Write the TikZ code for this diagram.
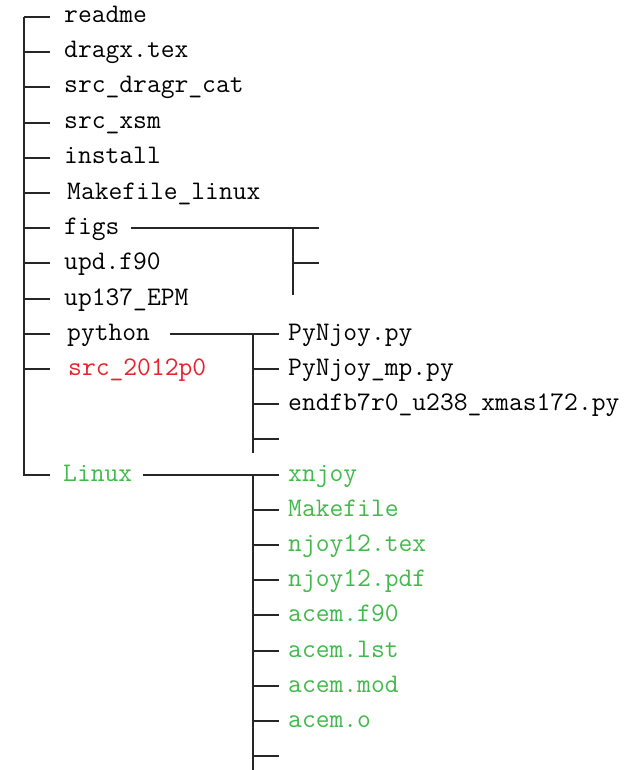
\documentclass[tikz,border=0pt]{standalone}
\usepackage{fontspec}
\definecolor{dirred}{RGB}{230,35,45}
\definecolor{dirgreen}{RGB}{65,185,75}
\begin{document}
\begin{tikzpicture}[x=1pt,y=-1pt,
  item/.style={anchor=base west, inner sep=0pt, font=\fontsize{26.8}{30}\selectfont\ttfamily},
  conn/.style={draw=black!85, line width=2pt}]
\useasboundingbox (0,0) rectangle (641,770);
% main items
\foreach \k/\name/\txt/\xx/\col in {0/readme/readme/64/black, 1/dragx/dragx.tex/64/black,
  2/dragr/src\_dragr\_cat/64/black, 3/xsm/src\_xsm/64/black, 4/install/install/64/black,
  5/makelin/Makefile\_linux/67/black, 6/figs/figs/64/black, 7/upd/upd.f90/64/black,
  8/epm/up137\_EPM/64/black, 9/python/python/67/black, 10/src/src\_2012p0/68/dirred,
  13/linux/Linux/63/dirgreen} {
  \pgfmathsetmacro{\yy}{round(17+35.2*\k)}
  \node[item, text=\col] (\name) at (\xx,\yy+6) {\txt};
  \coordinate (ma\k) at (24,\yy);
  \coordinate (mb\k) at (50,\yy);
}
\draw[conn] (ma0) -- (ma13) -- (mb13);
\foreach \k in {0,...,10} { \draw[conn] (ma\k) -- (mb\k); }
% figs subtree
\coordinate (fa) at (131,228);
\coordinate (fb) at (319,228);
\coordinate (fv0) at (293,228);
\coordinate (fv1) at (293,295);
\coordinate (fs0) at (293,263);
\coordinate (fs1) at (319,263);
\draw[conn] (fa) -- (fb);
\draw[conn] (fv0) -- (fv1);
\draw[conn] (fs0) -- (fs1);
% python subtree
\coordinate (pa) at (170,334);
\coordinate (pb) at (279,334);
\coordinate (pv0) at (253,334);
\coordinate (pv1) at (253,453);
\draw[conn] (pa) -- (pb);
\draw[conn] (pv0) -- (pv1);
\foreach \k/\name/\txt in {9/pynjoy/PyNjoy.py, 10/pynjoymp/PyNjoy\_mp.py, 11/endfb/endfb7r0\_u238\_xmas172.py} {
  \pgfmathsetmacro{\yy}{round(17+35.2*\k)}
  \node[item] (\name) at (288,\yy+6) {\txt};
}
\foreach \k in {10,11,12} {
  \pgfmathsetmacro{\yy}{round(17+35.2*\k)}
  \coordinate (ps\k) at (253,\yy);
  \coordinate (pe\k) at (279,\yy);
  \draw[conn] (ps\k) -- (pe\k);
}
% Linux subtree
\coordinate (la) at (143,475);
\coordinate (lb) at (279,475);
\coordinate (lv0) at (253,475);
\coordinate (lv1) at (253,770);
\draw[conn] (la) -- (lb);
\draw[conn] (lv0) -- (lv1);
\foreach \k/\name/\txt in {13/xnjoy/xnjoy, 14/lmake/Makefile, 15/njtex/njoy12.tex, 16/njpdf/njoy12.pdf,
  17/acemf/acem.f90, 18/acemlst/acem.lst, 19/acemmod/acem.mod, 20/acemo/acem.o} {
  \pgfmathsetmacro{\yy}{round(17+35.2*\k)}
  \node[item, text=dirgreen] (\name) at (288,\yy+6) {\txt};
}
\foreach \k in {14,...,21} {
  \pgfmathsetmacro{\yy}{round(17+35.2*\k)}
  \coordinate (ls\k) at (253,\yy);
  \coordinate (le\k) at (279,\yy);
  \draw[conn] (ls\k) -- (le\k);
}
\end{tikzpicture}
\end{document}
